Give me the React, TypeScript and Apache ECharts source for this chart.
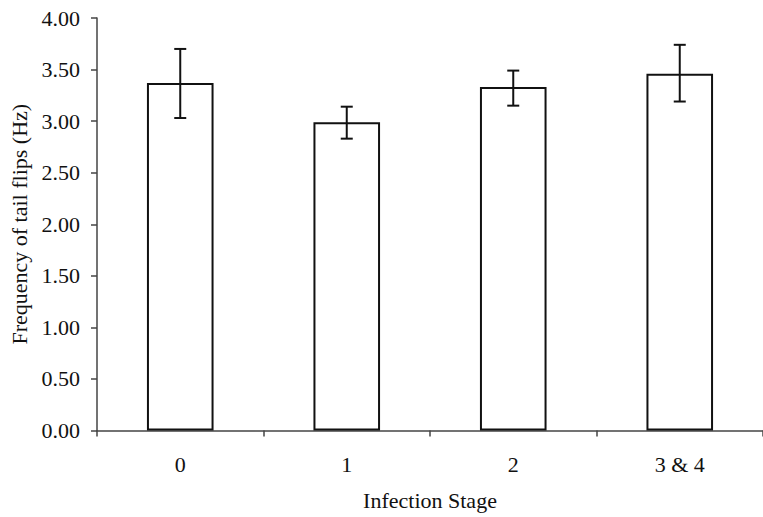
import React, { useEffect, useRef } from "react";
import * as echarts from "echarts";

const categories = ["0", "1", "2", "3 & 4"];
const means = [3.37, 2.99, 3.33, 3.46];
const lowers = [3.03, 2.83, 3.15, 3.19];
const uppers = [3.7, 3.14, 3.49, 3.74];
const yTicks = { min: 0, max: 4, interval: 0.5 };

const FONT = "Liberation Serif";
const FS = 22;

export default function App() {
  const ref = useRef<HTMLDivElement>(null);
  useEffect(() => {
    if (!ref.current) return;
    const chart = echarts.init(ref.current, undefined, { renderer: "svg" });
    const errData = categories.map((_, i) => [i, lowers[i], uppers[i]]);
    chart.setOption({
      animation: false,
      backgroundColor: "#ffffff",
      textStyle: { fontFamily: FONT },
      grid: { left: 97, top: 18, width: 667, bottom: 86.5 },
      xAxis: {
        type: "category",
        data: categories,
        name: "Infection Stage",
        nameLocation: "middle",
        nameGap: 59,
        nameTextStyle: { fontFamily: FONT, fontSize: FS, color: "#111" },
        axisLine: { lineStyle: { color: "#444", width: 1.5 } },
        axisTick: { show: true, length: 6, lineStyle: { color: "#444", width: 1.5 } },
        axisLabel: { fontFamily: FONT, fontSize: FS, color: "#111", margin: 23 },
        splitLine: { show: false },
      },
      yAxis: {
        type: "value",
        min: yTicks.min,
        max: yTicks.max,
        interval: yTicks.interval,
        name: "Frequency of tail flips (Hz)",
        nameLocation: "middle",
        nameRotate: 90,
        nameGap: 67,
        nameTextStyle: { fontFamily: FONT, fontSize: FS, color: "#111" },
        axisLine: { show: true, lineStyle: { color: "#444", width: 1.5 } },
        axisTick: { show: true, length: 6, lineStyle: { color: "#444", width: 1.5 } },
        axisLabel: {
          fontFamily: FONT,
          fontSize: FS,
          color: "#111",
          margin: 17,
          formatter: (v: number) => v.toFixed(2),
        },
        splitLine: { show: false },
      },
      series: [
        {
          type: "bar",
          data: means,
          barWidth: "40%",
          itemStyle: { color: "#ffffff", borderColor: "#111", borderWidth: 2 },
        },
        {
          type: "custom",
          data: errData,
          z: 10,
          renderItem: (params: any, api: any) => {
            const x = api.value(0);
            const lo = api.coord([x, api.value(1)]);
            const hi = api.coord([x, api.value(2)]);
            const hw = 6;
            const style = { stroke: "#111", lineWidth: 2 };
            return {
              type: "group",
              children: [
                { type: "line", shape: { x1: lo[0], y1: lo[1], x2: hi[0], y2: hi[1] }, style },
                { type: "line", shape: { x1: hi[0] - hw, y1: hi[1], x2: hi[0] + hw, y2: hi[1] }, style },
                { type: "line", shape: { x1: lo[0] - hw, y1: lo[1], x2: lo[0] + hw, y2: lo[1] }, style },
              ],
            };
          },
        },
      ],
    });
    return () => chart.dispose();
  }, []);
  return (
    <div
      ref={ref}
      style={{ position: "fixed", left: 0, top: 0, width: 763, height: 517, background: "#fff" }}
    />
  );
}
